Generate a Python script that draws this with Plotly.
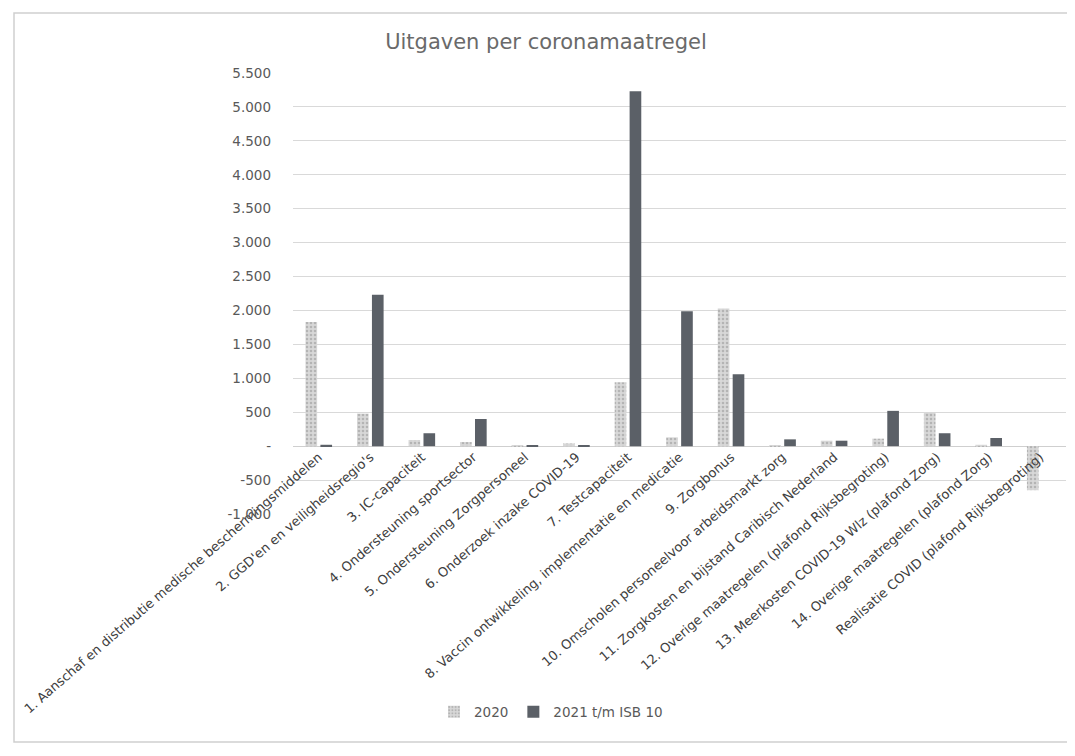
import plotly.graph_objects as go

categories = [
    "1. Aanschaf en distributie medische beschermingsmiddelen",
    "2. GGD'en en veiligheidsregio's",
    "3. IC-capaciteit",
    "4. Ondersteuning sportsector",
    "5. Ondersteuning Zorgpersoneel",
    "6. Onderzoek inzake COVID-19",
    "7. Testcapaciteit",
    "8. Vaccin ontwikkeling, implementatie en medicatie",
    "9. Zorgbonus",
    "10. Omscholen personeelvoor arbeidsmarkt zorg",
    "11. Zorgkosten en bijstand Caribisch Nederland",
    "12. Overige maatregelen (plafond Rijksbegroting)",
    "13. Meerkosten COVID-19 Wlz (plafond Zorg)",
    "14. Overige maatregelen (plafond Zorg)",
    "Realisatie COVID (plafond Rijksbegroting)",
]
values_2020 = [1830, 480, 90, 60, 15, 40, 940, 130, 2030, 10, 80, 110, 490, 20, -650]
values_2021 = [20, 2230, 190, 400, 5, 10, 5230, 1990, 1060, 100, 80, 520, 190, 120, 0]
series_names = ["2020", "2021 t/m ISB 10"]
tick_vals = [-1000, -500, 0, 500, 1000, 1500, 2000, 2500, 3000, 3500, 4000, 4500, 5000, 5500]
tick_text = ["-1.000", "-500", "-", "500", "1.000", "1.500", "2.000", "2.500", "3.000",
             "3.500", "4.000", "4.500", "5.000", "5.500"]

FONT = "DejaVu Sans, Verdana, sans-serif"
TXT = "#595959"

# page body has an 8px margin: figure coords = screen coords - 8
OFF = 8
W, H = 1075 - OFF, 756 - OFF
ML = 293 - OFF
MT = 73 - OFF
MR = W - (1066 - OFF)
MB = H - (514 - OFF)

def cx(X):  # screen x -> container fraction
    return (X - OFF) / W
def cy(Y):  # screen y -> container fraction
    return 1 - (Y - OFF) / H

fig = go.Figure()
fig.add_trace(go.Bar(
    x=categories, y=values_2020, name=series_names[0],
    marker=dict(color="#d4d4d4", line=dict(width=0),
                pattern=dict(shape=".", fgcolor="#8f8f8f", bgcolor="#d8d8d8", size=4, solidity=0.35)),
))
fig.add_trace(go.Bar(
    x=categories, y=values_2021, name=series_names[1],
    marker=dict(color="#5b6067", line=dict(width=0)),
))

ymin, ymax = -1000, 5500
zero_pos = (0 - ymin) / (ymax - ymin)

fig.update_layout(
    width=W, height=H,
    paper_bgcolor="white", plot_bgcolor="white",
    margin=dict(l=ML, r=MR, t=MT, b=MB, autoexpand=False),
    barmode="group", bargap=0.42, bargroupgap=0.22,
    font=dict(family=FONT, color=TXT),
    title=dict(text="Uitgaven per coronamaatregel", x=cx(546), xref="container", xanchor="center",
               y=cy(42), yref="container", yanchor="middle",
               font=dict(size=21, color="#6a6a6a", family=FONT)),
    legend=dict(orientation="h", x=cx(434), xanchor="left", xref="container",
                y=cy(712), yref="container", yanchor="middle",
                font=dict(size=13.5, color=TXT), itemwidth=30, traceorder="normal"),
    xaxis=dict(anchor="free", position=zero_pos, tickangle=-41, showgrid=False,
               showline=False, ticks="", tickfont=dict(size=13, color="#404040", family=FONT),
               automargin=False),
    yaxis=dict(range=[ymin - 0.5, ymax + 0.5], tickvals=tick_vals, ticktext=tick_text, showgrid=True,
               gridcolor="#d9d9d9", gridwidth=1, zeroline=True, zerolinecolor="#cfcfcf",
               zerolinewidth=1, showline=False, ticks="", ticklabelstandoff=21,
               tickfont=dict(size=13.5, color=TXT, family=FONT), automargin=False),
)

# outer chart-area border (as in the scanned Excel chart)
pw, ph = W - ML - MR, H - MT - MB
def px_x(X):
    return (X - OFF - ML) / pw
def px_y(Y):
    return (H - MB - (Y - OFF)) / ph
fig.add_shape(type="rect", xref="paper", yref="paper",
              x0=px_x(14), x1=px_x(1068), y0=px_y(742), y1=px_y(13),
              line=dict(color="#cfcfcf", width=1.5), layer="below")

fig.write_html("out.html")
